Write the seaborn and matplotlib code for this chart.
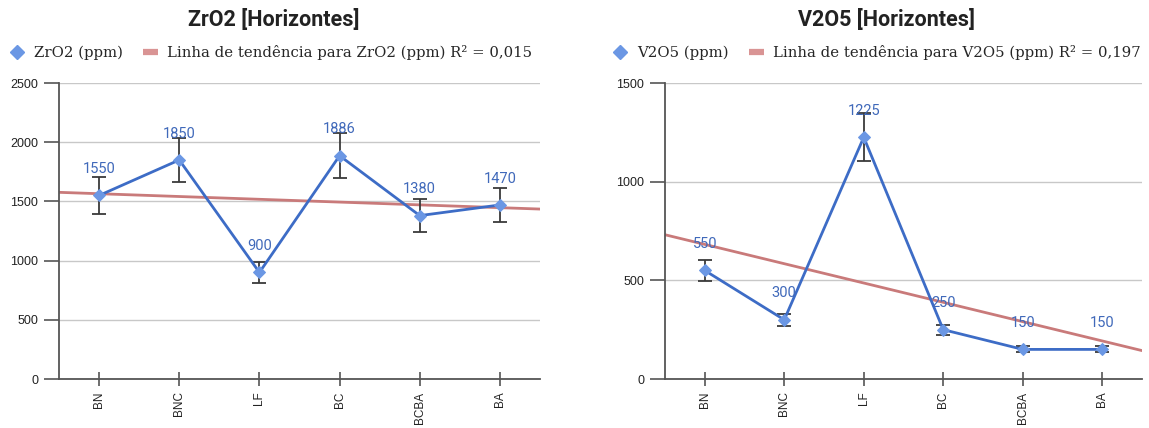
import numpy as np
import pandas as pd
import matplotlib
matplotlib.use("Agg")
import matplotlib.pyplot as plt
import seaborn as sns
from matplotlib.lines import Line2D

# ---- data ----
horizontes = ["BN", "BNC", "LF", "BC", "BCBA", "BA"]
zro2 = [1550, 1850, 900, 1886, 1380, 1470]
zro2_err = [155, 185, 90, 189, 138, 147]
v2o5 = [550, 300, 1225, 250, 150, 150]
v2o5_err = [55, 30, 122, 25, 15, 15]
zro2_ticks = [0, 500, 1000, 1500, 2000, 2500]
v2o5_ticks = [0, 500, 1000, 1500]
titles = ["ZrO2 [Horizontes]", "V2O5 [Horizontes]"]
series_labels = ["ZrO2 (ppm)", "V2O5 (ppm)"]
trend_labels = ["Linha de tendência para ZrO2 (ppm) R² = 0,015",
                "Linha de tendência para V2O5 (ppm) R² = 0,197"]

sns.set_theme(style="white")
plt.rcParams['font.family'] = ['Roboto', 'DejaVu Sans']

LINE = '#3d6cc6'
MARK = '#6b97e4'
TREND = '#c97a7a'
LABEL = '#4069ba'
AXC = '#555555'
TICKFONT = ['Liberation Sans', 'DejaVu Sans']

fig = plt.figure(figsize=(11.49, 4.28), dpi=100)
W, H = 1149, 428
axes_px = [(59, 540), (665, 1142)]
top_px, bot_px = 83, 379
title_x = [274, 887]
legend_x = [10, 613]

datasets = [(zro2, zro2_err, zro2_ticks), (v2o5, v2o5_err, v2o5_ticks)]

for i, ((vals, errs, ticks), (l, r)) in enumerate(zip(datasets, axes_px)):
    ax = fig.add_axes([l / W, 1 - bot_px / H, (r - l) / W, (bot_px - top_px) / H])
    df = pd.DataFrame({"horizonte": horizontes, "valor": vals, "erro": errs})
    pos = np.arange(len(horizontes))

    # gridlines
    ax.set_ylim(ticks[0], ticks[-1])
    ax.set_yticks(ticks)
    ax.yaxis.grid(True, color='#c8c8c8', linewidth=1.0)
    ax.set_axisbelow(True)
    ax.set_xlim(-0.5, len(horizontes) - 0.5)

    # trend line
    slope, intercept = np.polyfit(pos, df["valor"], 1)
    xs = np.array(ax.get_xlim())
    ax.plot(xs, slope * xs + intercept, color=TREND, lw=2.0, zorder=2)

    # data line
    sns.lineplot(data=df, x="horizonte", y="valor", sort=False, ax=ax,
                 color=LINE, lw=2.0, marker="D", markersize=6.5,
                 markerfacecolor=MARK, markeredgecolor=MARK, zorder=4)
    ax.errorbar(pos, df["valor"], yerr=df["erro"], fmt='none',
                ecolor='#3a3a3a', elinewidth=1.3, capsize=5, capthick=1.3, zorder=3)

    for x, v in zip(pos, df["valor"]):
        ax.annotate(f"{v}", (x, v), xytext=(0, 19), textcoords='offset points',
                    ha='center', va='center', fontsize=10.5, color=LABEL, zorder=5)

    ax.set_xlim(-0.5, len(horizontes) - 0.5)
    ax.set_xticks(pos)
    ax.set_xticklabels(horizontes, rotation=90, fontsize=8.5, color='#222222',
                       family=TICKFONT)
    ax.set_yticklabels([str(t) for t in ticks], fontsize=9, color='#222222',
                       family=TICKFONT)
    ax.tick_params(axis='y', direction='out', length=11, width=1.2, color=AXC,
                   left=True, pad=4)
    ax.tick_params(axis='x', direction='inout', length=10, width=1.2, color=AXC,
                   bottom=True, pad=4)
    ax.set_xlabel("")
    ax.set_ylabel("")
    for s in ['top', 'right']:
        ax.spines[s].set_visible(False)
    for s in ['left', 'bottom']:
        ax.spines[s].set_color(AXC)
        ax.spines[s].set_linewidth(1.3)

    fig.text(title_x[i] / W, 1 - 20 / H, titles[i], ha='center', va='center',
             fontsize=15.5, fontweight='bold', color='#222222')

    handles = [Line2D([], [], marker='D', color=MARK, ls='none', markersize=7.5),
               Line2D([], [], color='#d99494', lw=4.5, solid_capstyle='butt')]
    fig.legend(handles, [series_labels[i], trend_labels[i]],
               loc='center left', bbox_to_anchor=(legend_x[i] / W, 1 - 53 / H),
               ncol=2, frameon=False, handlelength=1.0, handletextpad=0.6,
               columnspacing=1.4, borderaxespad=0, borderpad=0,
               prop={'family': 'DejaVu Serif', 'size': 10.7})

fig.savefig("out.png", dpi=100, facecolor='white')
